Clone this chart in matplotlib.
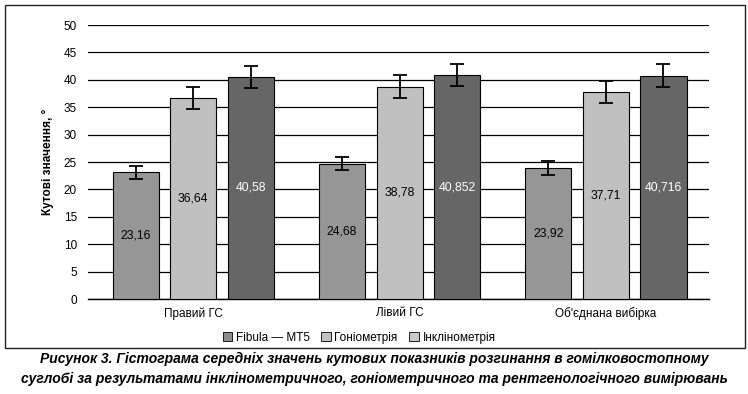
import matplotlib.pyplot as plt
from matplotlib.patches import Rectangle, Patch
import numpy as np

categories = ['Правий ГС', 'Лівий ГС', "Об'єднана вибірка"]
series = ['Fibula — MT5', 'Гоніометрія', 'Інклінометрія']
fibula = [23.16, 24.68, 23.92]
gonio = [36.64, 38.78, 37.71]
inkl = [40.58, 40.852, 40.716]
fibula_err = [1.2, 1.2, 1.3]
gonio_err = [2.0, 2.1, 2.0]
inkl_err = [2.0, 2.0, 2.1]
labels = [['23,16', '24,68', '23,92'], ['36,64', '38,78', '37,71'], ['40,58', '40,852', '40,716']]
colors = ['#969696', '#c0c0c0', '#666666']
text_colors = ['black', 'black', 'white']

plt.rcParams['font.family'] = ['Liberation Sans', 'DejaVu Sans']

fig = plt.figure(figsize=(7.48, 3.94), dpi=100)
fig.patches.append(Rectangle((0.0067, 0.1168), 0.989, 0.8706, transform=fig.transFigure,
                             fill=False, edgecolor='#222222', linewidth=1.0))
ax = fig.add_axes([0.1176, 0.241, 0.8304, 0.6955])

x = np.arange(len(categories))
width = 0.223
offset = 0.279
vals = [fibula, gonio, inkl]
errs = [fibula_err, gonio_err, inkl_err]
for i in range(3):
    pos = x + (i - 1) * offset
    ax.bar(pos, vals[i], width, color=colors[i], edgecolor='black', linewidth=0.8, zorder=3,
           yerr=errs[i], error_kw=dict(ecolor='black', elinewidth=1.3, capsize=5, capthick=1.3))
    for j in range(3):
        ax.text(pos[j], vals[i][j] / 2, labels[i][j], ha='center', va='center',
                fontsize=8.8, color=text_colors[i], zorder=4)

ax.set_xlim(-0.51, 2.5)
ax.set_ylim(0, 50)
ax.set_yticks(range(0, 51, 5))
ax.yaxis.grid(True, color='black', linewidth=0.9, zorder=0)
ax.set_axisbelow(True)
for s in ['top', 'right', 'left']:
    ax.spines[s].set_visible(False)
ax.spines['bottom'].set_linewidth(1.0)
ax.tick_params(axis='both', length=0, labelsize=8.5, pad=8)
ax.tick_params(axis='x', pad=6)
ax.set_xticks(x)
ax.set_xticklabels(categories)
ax.set_ylabel('Кутові значення, °', fontsize=8.5, fontweight='bold', labelpad=7)

handles = [Patch(facecolor=c, edgecolor='black', linewidth=0.6) for c in ['#8c8c8c', '#c0c0c0', '#c8c8c8']]
fig.legend(handles, series, loc='center', bbox_to_anchor=(0.48, 0.143), ncol=3, frameon=False,
           fontsize=8.5, handlelength=0.8, handleheight=0.8, handletextpad=0.3, columnspacing=1.0)

cap_font = ['Liberation Sans Narrow', 'Liberation Sans', 'DejaVu Sans']
fig.text(0.5, 0.088, 'Рисунок 3. Гістограма середніх значень кутових показників розгинання в гомілковостопному',
         ha='center', va='center', fontsize=10, fontweight='bold', style='italic', family=cap_font)
fig.text(0.5, 0.038, 'суглобі за результатами інклінометричного, гоніометричного та рентгенологічного вимірювань',
         ha='center', va='center', fontsize=10, fontweight='bold', style='italic', family=cap_font)

fig.savefig('out.png', dpi=100)
